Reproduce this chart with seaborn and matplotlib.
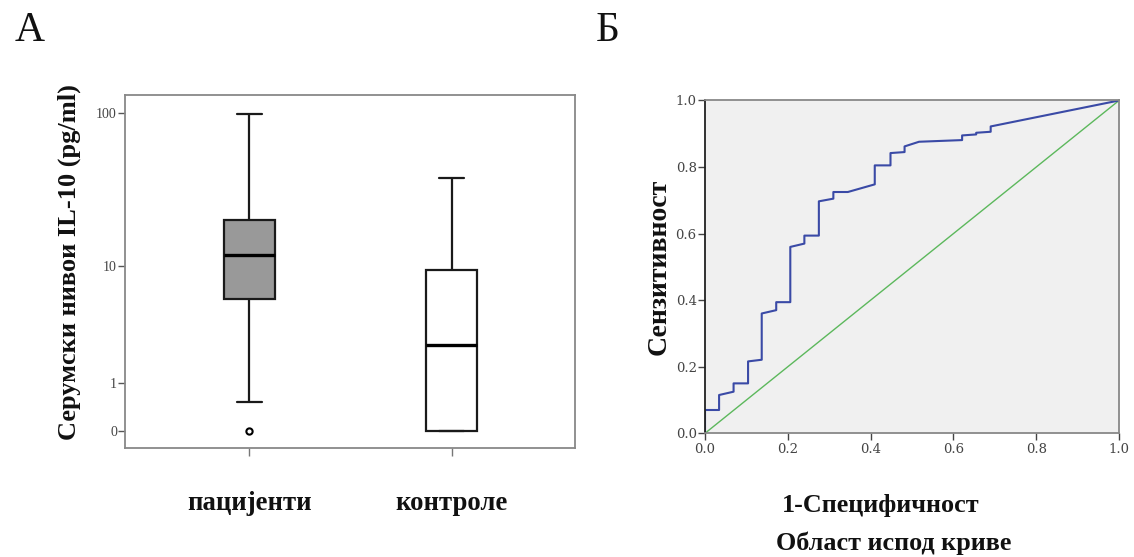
import numpy as np
import pandas as pd
import matplotlib
matplotlib.use("Agg")
import matplotlib.pyplot as plt
import seaborn as sns

# ---- Panel A: serum IL-10 levels (pg/ml), box summaries per group ----
groups = ["пацијенти", "контроле"]
q1 = [5.8, 0.0]
median = [11.9, 2.5]
q3 = [20.4, 9.3]
whisker_low = [0.52, 0.0]
whisker_high = [98.4, 38.4]
outliers = [[0.0], []]
box_colors = ["#999999", "#ffffff"]

y_tick_values = [0, 1, 10, 100]

# ---- Panel B: ROC curve ----
fpr = [0.0, 0.0, 0.034, 0.034, 0.069, 0.069, 0.104, 0.104, 0.137, 0.137,
       0.172, 0.172, 0.206, 0.206, 0.240, 0.240, 0.275, 0.275, 0.310, 0.310,
       0.345, 0.410, 0.410, 0.448, 0.448, 0.482, 0.482, 0.517, 0.621, 0.621,
       0.655, 0.655, 0.690, 0.690, 1.0]
tpr = [0.0, 0.070, 0.070, 0.115, 0.125, 0.150, 0.150, 0.216, 0.221, 0.360,
       0.370, 0.394, 0.394, 0.560, 0.570, 0.594, 0.594, 0.697, 0.705, 0.725,
       0.725, 0.748, 0.805, 0.805, 0.842, 0.845, 0.862, 0.876, 0.881, 0.895,
       0.898, 0.903, 0.906, 0.922, 1.0]
roc_ticks = [0.0, 0.2, 0.4, 0.6, 0.8, 1.0]

sns.set_theme(style="white")
plt.rcParams["font.family"] = ["Liberation Serif", "DejaVu Serif"]

fig = plt.figure(figsize=(11.34, 5.57), dpi=100)

# Build a sample per group whose quartiles and whisker ends equal the summaries
rows = []
for g, lo, a, m, b, hi, out in zip(groups, whisker_low, q1, median, q3,
                                   whisker_high, outliers):
    sample = list(out) + [lo] + [a] * 4 + [m] * 4 + [b] * 4 + [hi]
    rows += [(g, v) for v in sample]
df = pd.DataFrame(rows, columns=["group", "value"])
# values are shown on a log10(x + 1) axis
df["shifted"] = df["value"] + 1.0

ax1 = fig.add_axes([0.1105, 0.1957, 0.3968, 0.6332])
ax1.set_yscale("log")
sns.boxplot(data=df, x="group", y="shifted", hue="group", order=groups,
            hue_order=groups, palette=dict(zip(groups, box_colors)),
            legend=False, width=0.25, linewidth=1.6, linecolor="#1a1a1a",
            saturation=1, ax=ax1,
            medianprops=dict(color="#000000", linewidth=2.4),
            flierprops=dict(marker="o", markersize=4.5, markerfacecolor="white",
                            markeredgecolor="#000000", markeredgewidth=1.5))
ax1.set_xlim(-0.613, 1.612)
ax1.set_ylim(10 ** -0.109, 10 ** 2.117)
ax1.yaxis.set_major_locator(matplotlib.ticker.FixedLocator([v + 1 for v in y_tick_values]))
ax1.yaxis.set_minor_locator(matplotlib.ticker.NullLocator())
ax1.set_yticklabels([str(v) for v in y_tick_values])
ax1.tick_params(axis="y", which="major", left=True, length=5, width=1,
                color="#555555", labelcolor="#444444", labelsize=10, pad=1)
ax1.tick_params(axis="x", bottom=True, length=6, width=1, color="#777777",
                labelsize=19.3, pad=25, labelcolor="#111111")
for lbl in ax1.get_xticklabels():
    lbl.set_fontweight("bold")
for sp in ax1.spines.values():
    sp.set_color("#888888")
    sp.set_linewidth(1.3)
ax1.set_xlabel("")
ax1.set_ylabel("Серумски нивои IL-10 (pg/ml)", fontsize=19,
               fontweight="bold", color="#111111")
ax1.yaxis.set_label_coords(-0.098, 0.527)

# ---- ROC panel ----
ax2 = fig.add_axes([0.6217, 0.2221, 0.3651, 0.5975])
ax2.set_facecolor("#f0f0f0")
sns.lineplot(x=[0.0, 1.0], y=[0.0, 1.0], color="#5cb85c", linewidth=1.0,
             ax=ax2, sort=False, estimator=None)
sns.lineplot(x=fpr, y=tpr, color="#3a4aa6", linewidth=1.5, ax=ax2,
             sort=False, estimator=None)
ax2.set_xlim(0, 1)
ax2.set_ylim(0, 1)
ax2.set_xticks(roc_ticks)
ax2.set_yticks(roc_ticks)
ax2.set_xticklabels([f"{t:.1f}" for t in roc_ticks], fontfamily="DejaVu Serif")
ax2.set_yticklabels([f"{t:.1f}" for t in roc_ticks], fontfamily="DejaVu Serif")
ax2.tick_params(axis="both", length=5, width=1, color="#444444",
                labelcolor="#444444", labelsize=9.5, pad=1)
ax2.tick_params(axis="x", pad=2)
ax2.tick_params(left=True, bottom=True)
for name, sp in ax2.spines.items():
    sp.set_color("#888888")
    sp.set_linewidth(1.3)
ax2.spines["left"].set_color("#222222")
ax2.set_ylabel("Сензитивност", fontsize=20, fontweight="bold",
               color="#111111", labelpad=3)
ax2.set_xlabel("")

fig.text(0.777, 0.093, "1-Специфичност", fontsize=18.8, fontweight="bold",
         ha="center", va="center", color="#111111")
fig.text(0.7877, 0.0255, "Област испод криве", fontsize=18.8, fontweight="bold",
         ha="center", va="center", color="#111111")

# Panel letters
fig.text(0.0265, 0.944, "А", fontsize=30, ha="center", va="center", color="#111111")
fig.text(0.5355, 0.944, "Б", fontsize=30, ha="center", va="center", color="#111111")

fig.savefig("out.png", dpi=100)
